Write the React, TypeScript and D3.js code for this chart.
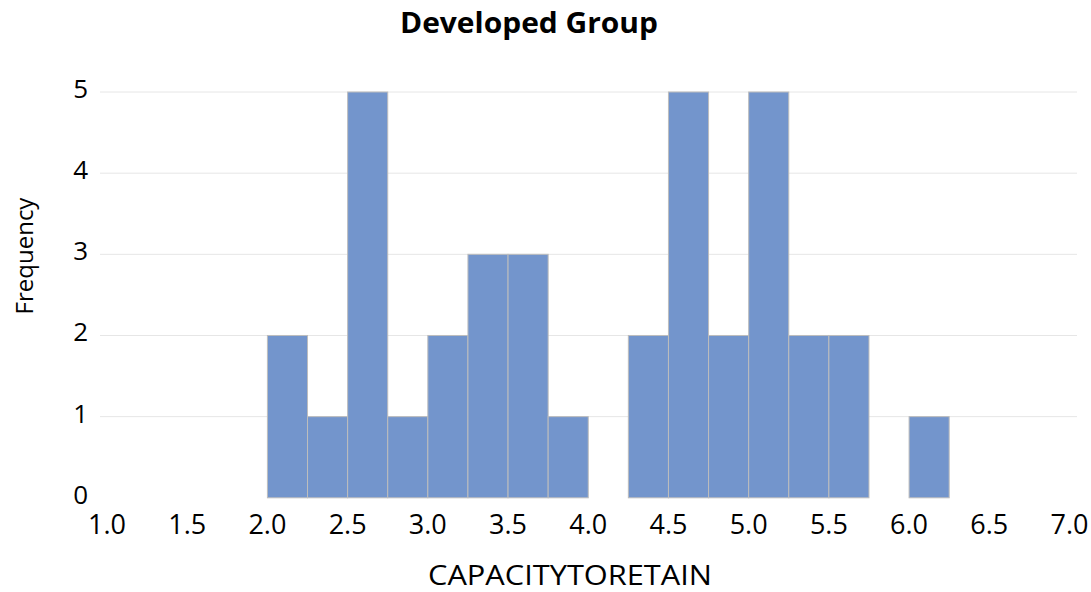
import React from "react";
import * as d3 from "d3";

const binStarts = [2.0, 2.25, 2.5, 2.75, 3.0, 3.25, 3.5, 3.75, 4.0, 4.25, 4.5, 4.75, 5.0, 5.25, 5.5, 5.75, 6.0];
const frequencies = [2, 1, 5, 1, 2, 3, 3, 1, 0, 2, 5, 2, 5, 2, 2, 0, 1];
const binWidth = 0.25;
const xTicks = [1.0, 1.5, 2.0, 2.5, 3.0, 3.5, 4.0, 4.5, 5.0, 5.5, 6.0, 6.5, 7.0];
const yTicks = [0, 1, 2, 3, 4, 5];
const title = "Developed Group";
const xTitle = "CAPACITYTORETAIN";
const yTitle = "Frequency";

export default function App() {
  const W = 1091, H = 592;
  const x = d3.scaleLinear().domain([1, 7]).range([107, 1069.5]);
  const y = d3.scaleLinear().domain([0, 5]).range([497.8, 92]);
  const font = "'Open Sans', sans-serif";
  return (
    <svg width={W} height={H} style={{ position: "absolute", left: 0, top: 0, background: "#fff" }}>
      <rect x={0} y={0} width={W} height={H} fill="#fff" />
      <text x={529} y={33} textAnchor="middle" fontFamily={font} fontWeight={700} fontSize={29} textLength={258} lengthAdjust="spacingAndGlyphs" fill="#000">{title}</text>
      {yTicks.filter(t => t > 0).map(t => (
        <line key={t} x1={100} x2={1077} y1={y(t)} y2={y(t)} stroke="#e6e6e6" strokeWidth={1} />
      ))}
      {binStarts.map((b, i) => (
        <rect key={i} x={x(b)} y={y(frequencies[i])} width={x(b + binWidth) - x(b)} height={y(0) - y(frequencies[i])}
          fill="#7395cc" stroke="#bdbdbd" strokeWidth={1} />
      ))}
      {yTicks.map(t => (
        <text key={t} x={88} y={y(t) - 4} textAnchor="end" dominantBaseline="central" fontFamily={font} fontSize={26} fill="#000">{t}</text>
      ))}
      {xTicks.map(t => (
        <text key={t} x={x(t)} y={523} textAnchor="middle" dominantBaseline="central" fontFamily={font} fontSize={27} fill="#000">{t.toFixed(1)}</text>
      ))}
      <text x={570} y={585} textAnchor="middle" fontFamily={font} fontSize={28} textLength={284} lengthAdjust="spacingAndGlyphs" fill="#000">{xTitle}</text>
      <text transform={`translate(23,256) rotate(-90)`} textAnchor="middle" dominantBaseline="central" fontFamily={font} fontSize={24} fill="#000">{yTitle}</text>
    </svg>
  );
}
